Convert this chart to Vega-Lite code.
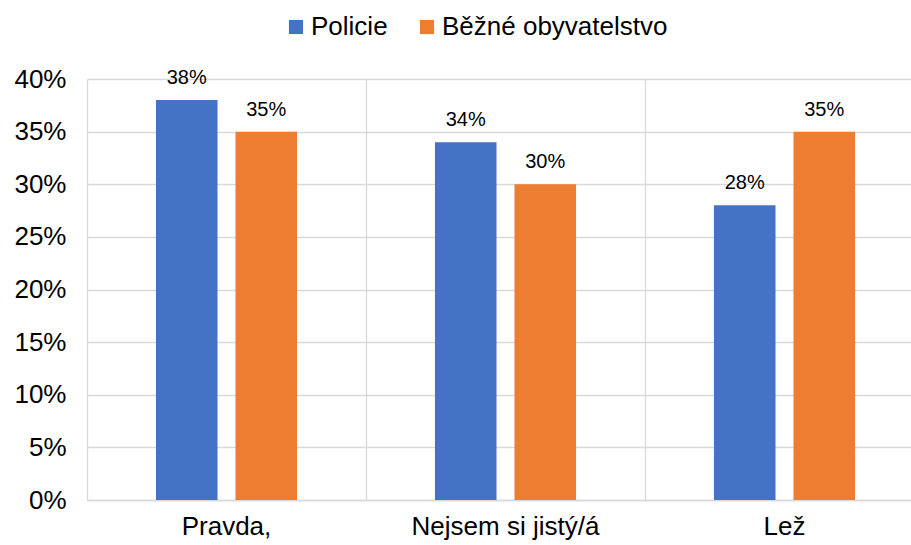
{
  "$schema": "https://vega.github.io/schema/vega-lite/v6.json",
  "width": 837,
  "height": 421,
  "autosize": "none",
  "padding": {"left": 87, "top": 79, "right": 0, "bottom": 45},
  "background": "white",
  "config": {
    "view": {"stroke": null},
    "font": "Liberation Sans",
    "text": {"font": "Liberation Sans"}
  },
  "data": {
    "values": [
      {"kategorie": "Pravda,", "skupina": "Policie", "hodnota": 0.38},
      {"kategorie": "Pravda,", "skupina": "Běžné obyvatelstvo", "hodnota": 0.35},
      {"kategorie": "Nejsem si jistý/á", "skupina": "Policie", "hodnota": 0.34},
      {"kategorie": "Nejsem si jistý/á", "skupina": "Běžné obyvatelstvo", "hodnota": 0.30},
      {"kategorie": "Lež", "skupina": "Policie", "hodnota": 0.28},
      {"kategorie": "Lež", "skupina": "Běžné obyvatelstvo", "hodnota": 0.35}
    ]
  },
  "encoding": {
    "x": {
      "field": "kategorie",
      "type": "nominal",
      "sort": ["Pravda,", "Nejsem si jistý/á", "Lež"],
      "scale": {"paddingInner": 0, "paddingOuter": 0},
      "axis": {
        "title": null,
        "labelAngle": 0,
        "labelFontSize": 26,
        "labelLimit": 400,
        "labelColor": "#000000",
        "labelPadding": 13,
        "ticks": false,
        "domain": true,
        "domainColor": "#D9D9D9",
        "domainWidth": 1.5,
        "grid": true,
        "gridColor": "#D9D9D9",
        "gridWidth": 1.3,
        "bandPosition": 0
      }
    },
    "xOffset": {
      "field": "skupina",
      "type": "nominal",
      "sort": ["Policie", "Běžné obyvatelstvo"],
      "scale": {"paddingInner": 0.226, "paddingOuter": 0.867}
    },
    "y": {
      "field": "hodnota",
      "type": "quantitative",
      "scale": {"domain": [0, 0.4], "nice": false},
      "axis": {
        "title": null,
        "format": ".0%",
        "values": [0, 0.05, 0.1, 0.15, 0.2, 0.25, 0.3, 0.35, 0.4],
        "labelFontSize": 26,
        "labelColor": "#000000",
        "labelPadding": 21,
        "ticks": false,
        "domain": false,
        "gridColor": "#D9D9D9",
        "gridWidth": 1.3
      }
    }
  },
  "layer": [
    {
      "mark": {"type": "bar"},
      "encoding": {
        "color": {
          "field": "skupina",
          "type": "nominal",
          "sort": ["Policie", "Běžné obyvatelstvo"],
          "scale": {"domain": ["Policie", "Běžné obyvatelstvo"], "range": ["#4472C4", "#ED7D31"]},
          "legend": {
            "title": null,
            "orient": "none",
            "legendX": 196,
            "legendY": -65,
            "direction": "horizontal",
            "symbolType": "square",
            "symbolSize": 200,
            "symbolStrokeWidth": 0,
            "labelFontSize": 26,
            "labelLimit": 500,
            "labelColor": "#000000",
            "labelOffset": 2,
            "columnPadding": 26
          }
        }
      }
    },
    {
      "mark": {"type": "text", "baseline": "alphabetic", "dy": -16, "fontSize": 20, "color": "#000000"},
      "encoding": {
        "text": {"field": "hodnota", "type": "quantitative", "format": ".0%"}
      }
    }
  ]
}
